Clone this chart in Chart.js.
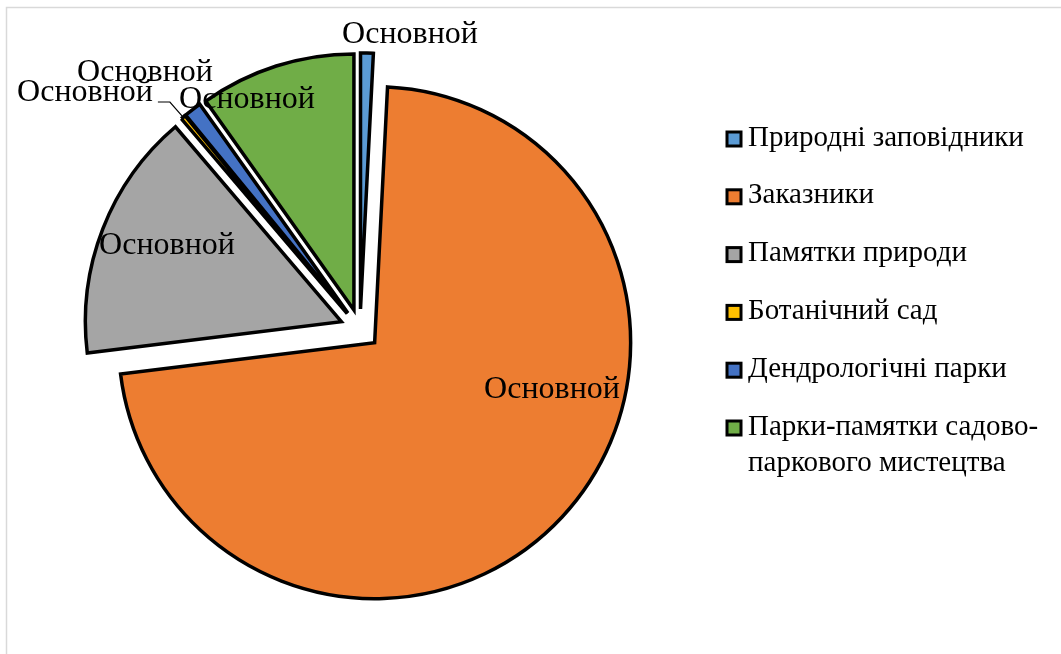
<!DOCTYPE html>
<html><head><meta charset="utf-8">
<script src="https://cdn.jsdelivr.net/npm/chart.js@4/dist/chart.umd.min.js"></script>
<style>html,body{margin:0;padding:0;background:#fff;overflow:hidden;}</style>
</head><body>
<canvas id="c" width="1061" height="654" style="display:block;width:1061px;height:654px"></canvas>
<script>
const categories = ['Природні заповідники', 'Заказники', 'Памятки природи', 'Ботанічний сад', 'Дендрологічні парки', ['Парки-памятки садово-', 'паркового мистецтва']];
const seriesName = 'Основной';
const values = [0.8, 72.1, 15.7, 0.3, 1.1, 9.8];
const colors = ['#5B9BD5', '#ED7D31', '#A5A5A5', '#FFC000', '#4472C4', '#70AD47'];
// label centre offsets from the pie centre (text placement only)
const labelOffsets = [[50, -294], [192, 61], [-193, -83], [-275, -236], [-215, -256], [-113, -229]];
const FONT = '"Liberation Serif", "Times New Roman", serif';

// Excel-like explosion: translate each slice along its bisector by offset/4, keep shape intact
const origDraw = Chart.ArcElement.prototype.draw;
Chart.ArcElement.prototype.draw = function (ctx) {
  const o = this.options;
  const off = (o.offset || 0) / 4;
  const h = (this.startAngle + this.endAngle) / 2;
  ctx.save();
  ctx.translate(Math.cos(h) * off, Math.sin(h) * off);
  this.options = Object.assign({}, o, { offset: 0 });
  origDraw.call(this, ctx);
  this.options = o;
  ctx.restore();
};

const framePlugin = {
  id: 'frame',
  beforeDraw(chart) {
    const ctx = chart.ctx;
    ctx.save();
    ctx.fillStyle = '#fff';
    ctx.fillRect(0, 0, chart.width, chart.height);
    ctx.strokeStyle = '#D9D9D9';
    ctx.lineWidth = 1.5;
    ctx.beginPath();
    ctx.moveTo(6.5, chart.height);
    ctx.lineTo(6.5, 7.5);
    ctx.lineTo(chart.width, 7.5);
    ctx.stroke();
    ctx.restore();
  }
};

const labelPlugin = {
  id: 'sliceLabels',
  afterDatasetsDraw(chart) {
    const ctx = chart.ctx;
    const meta = chart.getDatasetMeta(0);
    ctx.save();
    ctx.font = '32px ' + FONT;
    ctx.fillStyle = '#000';
    ctx.textAlign = 'center';
    ctx.textBaseline = 'middle';
    meta.data.forEach((arc, i) => {
      const lx = arc.x + labelOffsets[i][0];
      const ly = arc.y + labelOffsets[i][1];
      ctx.fillText(chart.data.datasets[0].label, lx, ly);
      if (i === 3) {
        const w = ctx.measureText(chart.data.datasets[0].label).width;
        const h = (arc.startAngle + arc.endAngle) / 2;
        const off = (arc.options.offset || 0) / 4;
        const ex = arc.x + Math.cos(h) * (off + arc.outerRadius - 2);
        const ey = arc.y + Math.sin(h) * (off + arc.outerRadius - 2);
        const sx = lx + w / 2 + 5, sy = ly + 9;
        ctx.strokeStyle = '#000';
        ctx.lineWidth = 1.2;
        ctx.beginPath();
        ctx.moveTo(sx, sy);
        ctx.lineTo(sx + 12, sy);
        ctx.lineTo(ex, ey);
        ctx.stroke();
      }
    });
    ctx.restore();
  }
};

const legendPlugin = {
  id: 'customLegend',
  afterDraw(chart) {
    const ctx = chart.ctx;
    const ds = chart.data.datasets[0];
    ctx.save();
    ctx.font = '29px ' + FONT;
    ctx.textBaseline = 'middle';
    ctx.textAlign = 'left';
    const x0 = 727, y0 = 138, step = 57.8, lineH = 36;
    chart.data.labels.forEach((lab, i) => {
      const y = y0 + i * step;
      ctx.fillStyle = ds.backgroundColor[i];
      ctx.fillRect(x0, y - 6, 14, 14);
      ctx.strokeStyle = '#000';
      ctx.lineWidth = 3;
      ctx.strokeRect(x0, y - 6, 14, 14);
      ctx.fillStyle = '#000';
      const lines = Array.isArray(lab) ? lab : [lab];
      lines.forEach((t, j) => ctx.fillText(t, 748, y + j * lineH));
    });
    ctx.restore();
  }
};

new Chart(document.getElementById('c'), {
  type: 'pie',
  data: {
    labels: categories,
    datasets: [{
      label: seriesName,
      data: values,
      backgroundColor: colors,
      borderColor: '#000',
      borderWidth: 3.5,
      borderJoinStyle: 'miter',
      offset: 80
    }]
  },
  options: {
    responsive: false,
    animation: false,
    devicePixelRatio: 1,
    events: [],
    radius: 256,
    layout: { padding: { left: 0, right: 341, top: 4, bottom: 0 } },
    plugins: { legend: { display: false }, tooltip: { enabled: false }, title: { display: false } }
  },
  plugins: [framePlugin, labelPlugin, legendPlugin]
});
</script>
</body></html>
